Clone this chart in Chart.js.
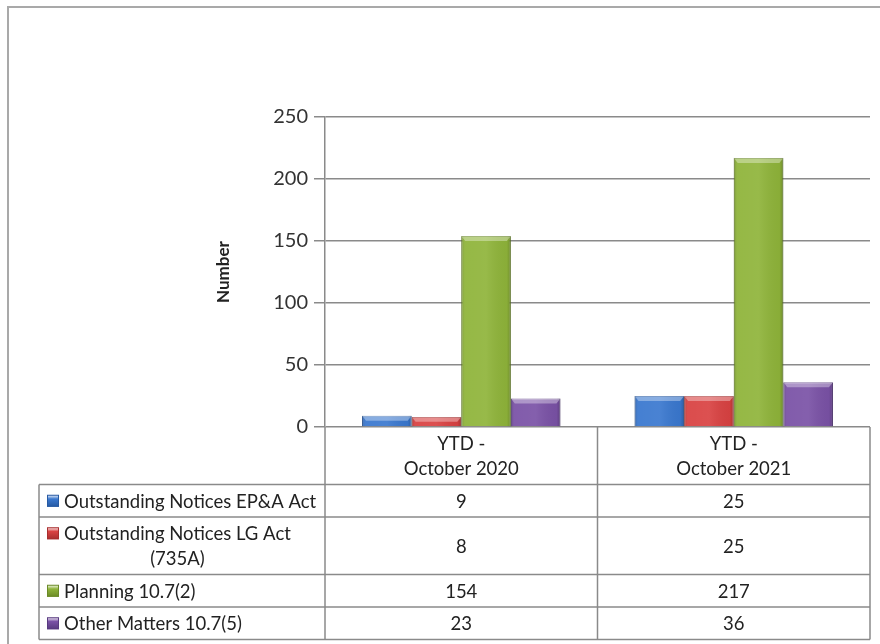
<!DOCTYPE html>
<html>
<head>
<meta charset="utf-8">
<script src="https://cdn.jsdelivr.net/npm/chart.js@4.4.1/dist/chart.umd.min.js"></script>
<style>
  html, body { margin: 0; padding: 0; background: #fff; }
  #wrap { position: relative; width: 880px; height: 644px; }
</style>
</head>
<body>
<div id="wrap"><canvas id="chart" width="880" height="644"></canvas></div>
<script>
// data
const categories = [['YTD -', 'October 2020'], ['YTD -', 'October 2021']];
const seriesLabels = [
  ['Outstanding Notices EP&A Act'],
  ['Outstanding Notices LG Act', '(735A)'],
  ['Planning 10.7(2)'],
  ['Other Matters 10.7(5)']
];
const epaAct = [9, 25];
const lgAct = [8, 25];
const planning = [154, 217];
const otherMatters = [23, 36];
const yTicks = [0, 50, 100, 150, 200, 250];

const seriesColors = ['#3a78cf', '#d94242', '#8fb43a', '#7a52a6'];
const seriesEdges = ['#275aa3', '#a82e2e', '#6b8a27', '#583a80'];

const FONT = 'Lato, "Open Sans", sans-serif';
const LINE_COLOR = '#8a8a8a';
const TEXT_COLOR = '#222';

// outer frame (only top and left edges are in the picture)
const framePlugin = {
  id: 'frame',
  beforeDraw(chart){
    const ctx = chart.ctx;
    ctx.save();
    ctx.strokeStyle = '#a9a9a9';
    ctx.lineWidth = 2;
    ctx.beginPath();
    ctx.moveTo(8, chart.height);
    ctx.lineTo(8, 7);
    ctx.lineTo(chart.width, 7);
    ctx.stroke();
    ctx.restore();
  }
};

// excel-ish bevel on the bars
const bevelPlugin = {
  id: 'bevel',
  afterDatasetsDraw(chart){
    const ctx = chart.ctx;
    ctx.save();
    chart.data.datasets.forEach((ds, i) => {
      chart.getDatasetMeta(i).data.forEach(bar => {
        const l = bar.x - bar.width / 2, r = bar.x + bar.width / 2;
        const t = bar.y, b = bar.base;
        const g = ctx.createLinearGradient(l, 0, r, 0);
        g.addColorStop(0, 'rgba(0,0,0,0.18)');
        g.addColorStop(0.08, 'rgba(255,255,255,0.06)');
        g.addColorStop(0.5, 'rgba(255,255,255,0.08)');
        g.addColorStop(0.92, 'rgba(0,0,0,0.04)');
        g.addColorStop(1, 'rgba(0,0,0,0.22)');
        ctx.fillStyle = g;
        ctx.fillRect(l, t, r - l, b - t);
        const bh = Math.min(5, (b - t) / 2);
        ctx.fillStyle = 'rgba(255,255,255,0.35)';
        ctx.beginPath();
        ctx.moveTo(l, t); ctx.lineTo(r, t);
        ctx.lineTo(r - 4, t + bh); ctx.lineTo(l + 4, t + bh);
        ctx.closePath();
        ctx.fill();
      });
    });
    ctx.restore();
  }
};

// data table under the plot
const tablePlugin = {
  id: 'dataTable',
  afterDraw(chart){
    const {ctx, chartArea, scales: {x, y}} = chart;
    const LINE_H = 25, BASE_H = 32.5;
    const tableLeft = 39;
    const top = y.getPixelForValue(0);
    const n = categories.length;
    const edges = [chartArea.left];
    for(let i = 1; i < n; i++) edges.push((x.getPixelForValue(i - 1) + x.getPixelForValue(i)) / 2);
    edges.push(chartArea.right);

    const headH = BASE_H + LINE_H * (Math.max(...categories.map(c => c.length)) - 1);
    const rowTops = [top + headH];
    seriesLabels.forEach(lines => rowTops.push(rowTops[rowTops.length - 1] + BASE_H + LINE_H * (lines.length - 1)));
    const bottom = rowTops[rowTops.length - 1];

    ctx.save();
    ctx.strokeStyle = LINE_COLOR;
    ctx.lineWidth = 1.5;
    ctx.beginPath();
    rowTops.forEach(ry => { ctx.moveTo(tableLeft, ry); ctx.lineTo(chartArea.right, ry); });
    ctx.moveTo(tableLeft, rowTops[0]); ctx.lineTo(tableLeft, bottom);
    edges.forEach(ex => { ctx.moveTo(ex, top); ctx.lineTo(ex, bottom); });
    ctx.stroke();

    ctx.font = '18.5px ' + FONT;
    ctx.fillStyle = TEXT_COLOR;
    ctx.textBaseline = 'middle';
    ctx.textAlign = 'center';
    // header
    const headMid = top + headH / 2;
    categories.forEach((lines, i) => {
      lines.forEach((txt, j) => {
        ctx.fillText(txt, x.getPixelForValue(i), headMid + (j - (lines.length - 1) / 2) * LINE_H + 1);
      });
    });
    // rows
    seriesLabels.forEach((lines, i) => {
      const rTop = rowTops[i], rBot = rowTops[i + 1];
      const mid = (rTop + rBot) / 2;
      const firstY = mid - (lines.length - 1) / 2 * LINE_H;
      // legend key
      const kg = ctx.createLinearGradient(0, firstY - 6, 0, firstY + 6);
      kg.addColorStop(0, '#ffffff');
      kg.addColorStop(0.35, seriesColors[i]);
      kg.addColorStop(1, seriesEdges[i]);
      ctx.fillStyle = kg;
      ctx.fillRect(47, firstY - 6, 12, 12);
      ctx.strokeStyle = seriesEdges[i];
      ctx.lineWidth = 1;
      ctx.strokeRect(47.5, firstY - 5.5, 11, 11);
      ctx.fillStyle = TEXT_COLOR;
      ctx.textAlign = 'left';
      ctx.fillText(lines[0], 64, firstY + 1);
      const w0 = ctx.measureText(lines[0]).width;
      ctx.textAlign = 'center';
      for(let j = 1; j < lines.length; j++) ctx.fillText(lines[j], 64 + w0 / 2, firstY + j * LINE_H + 1);
      chart.data.datasets[i].data.forEach((v, j) => {
        ctx.fillText(String(v), x.getPixelForValue(j), mid + 1);
      });
    });
    ctx.restore();
  }
};

const values = [epaAct, lgAct, planning, otherMatters];

new Chart(document.getElementById('chart').getContext('2d'), {
  type: 'bar',
  data: {
    labels: categories.map(c => c.join(' ')),
    datasets: values.map((d, i) => ({
      label: seriesLabels[i].join(' '),
      data: d,
      backgroundColor: seriesColors[i],
      borderColor: seriesEdges[i],
      borderWidth: 1,
      categoryPercentage: 0.728,
      barPercentage: 1.0
    }))
  },
  options: {
    responsive: false,
    animation: false,
    devicePixelRatio: 1,
    layout: { padding: { left: 0, top: 117, right: 10, bottom: 217 } },
    plugins: { legend: { display: false }, tooltip: { enabled: false } },
    scales: {
      x: { display: false, offset: true },
      y: {
        min: 0, max: 250,
        afterBuildTicks: s => { s.ticks = yTicks.map(v => ({ value: v })); },
        afterFit: s => { s.width = 325; },
        ticks: { padding: 6, color: '#333', font: { family: FONT, size: 20 } },
        border: { color: LINE_COLOR, width: 1.5 },
        grid: { color: LINE_COLOR, lineWidth: 1.5, tickLength: 11 },
        title: {
          display: true, text: 'Number', color: TEXT_COLOR,
          font: { family: FONT, size: 17, weight: 'bold' },
          padding: { top: 213, bottom: 0 }
        }
      }
    }
  },
  plugins: [framePlugin, bevelPlugin, tablePlugin]
});
</script>
</body>
</html>
